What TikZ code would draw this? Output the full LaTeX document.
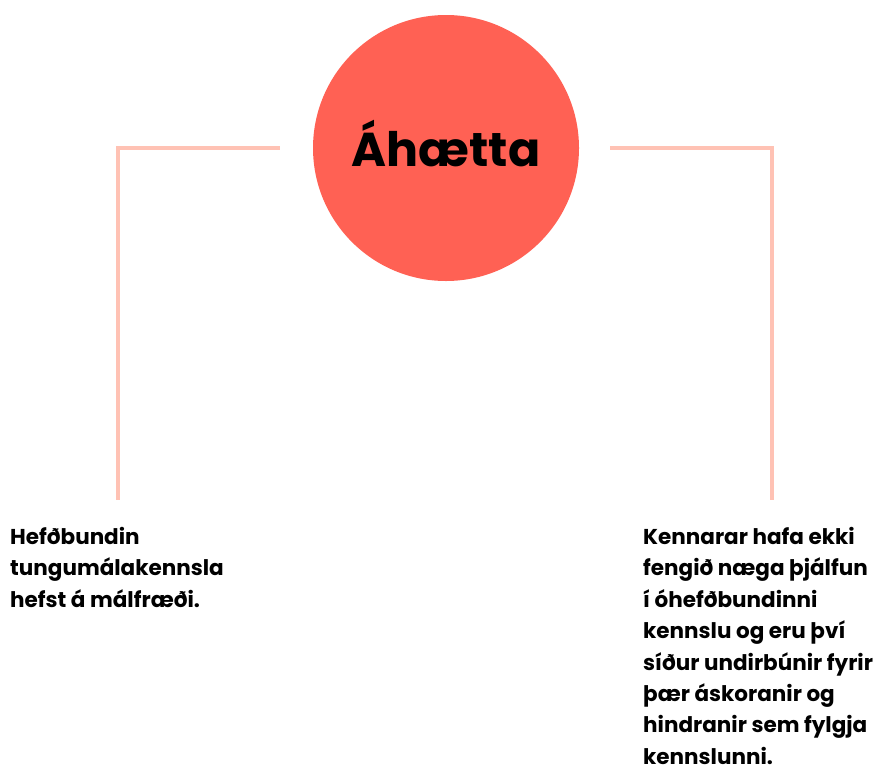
\documentclass[tikz,border=0pt]{standalone}
\usepackage{fontspec}
\setmainfont{Poppins}
\usetikzlibrary{positioning}
\definecolor{hringur}{HTML}{FF6154}
\definecolor{lina}{HTML}{FFC2B4}
\tikzset{
  titill/.style={circle,fill=hringur,minimum size=266pt,inner sep=0pt,
    font=\fontsize{47.5}{57}\selectfont\bfseries},
  texti/.style={anchor=north west,align=left,inner sep=0pt,
    font=\fontsize{21.5}{31.4}\selectfont\bfseries},
  tengill/.style={draw=lina,line width=3.5pt}
}
\begin{document}
\begin{tikzpicture}[x=1pt,y=-1pt]
  \useasboundingbox (0,0) rectangle (882,774);
  \node[titill] (risk) at (446,148) {\raisebox{9pt}{Áhætta}};
  \node[texti] (vinstri) at (10,527) {Hefðbundin\\tungumálakennsla\\hefst á málfræði.};
  \node[texti] (haegri) at (643,527) {Kennarar hafa ekki\\fengið næga þjálfun\\í óhefðbundinni\\kennslu og eru því\\síður undirbúnir fyrir\\þær áskoranir og\\hindranir sem fylgja\\kennslunni.};
  \coordinate (v-endi) at (118,500);
  \coordinate (h-endi) at (772,500);
  \draw[tengill,shorten <=33pt] (risk.west) -| (v-endi);
  \draw[tengill,shorten <=31pt] (risk.east) -| (h-endi);
\end{tikzpicture}
\end{document}
